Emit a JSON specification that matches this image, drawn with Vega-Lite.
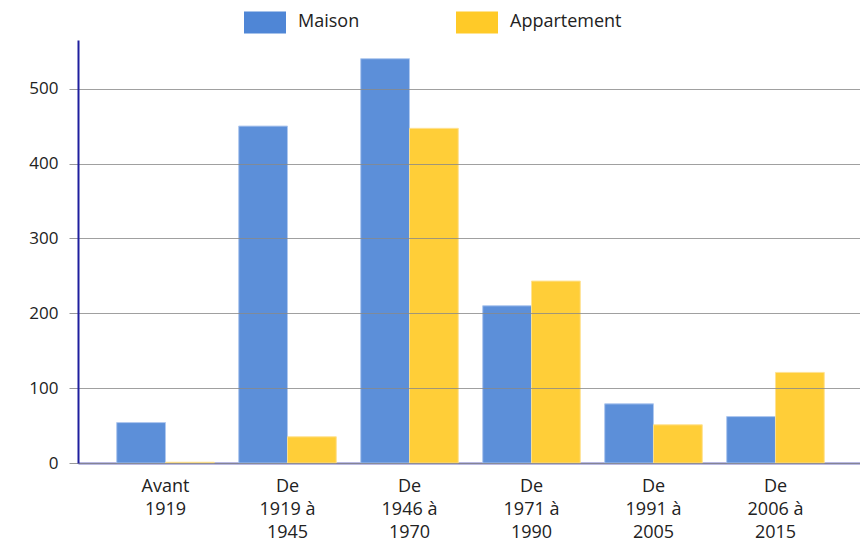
{
  "$schema": "https://vega.github.io/schema/vega-lite/v6.json",
  "autosize": {"type": "none"},
  "width": 782,
  "height": 423,
  "padding": {"left": 78, "top": 40, "right": 0, "bottom": 79},
  "background": "white",
  "data": {
    "values": [
      {"periode": "Avant 1919", "type": "Maison", "valeur": 54},
      {"periode": "Avant 1919", "type": "Appartement", "valeur": 1},
      {"periode": "De 1919 à 1945", "type": "Maison", "valeur": 450},
      {"periode": "De 1919 à 1945", "type": "Appartement", "valeur": 35},
      {"periode": "De 1946 à 1970", "type": "Maison", "valeur": 540},
      {"periode": "De 1946 à 1970", "type": "Appartement", "valeur": 447},
      {"periode": "De 1971 à 1990", "type": "Maison", "valeur": 210},
      {"periode": "De 1971 à 1990", "type": "Appartement", "valeur": 243},
      {"periode": "De 1991 à 2005", "type": "Maison", "valeur": 79},
      {"periode": "De 1991 à 2005", "type": "Appartement", "valeur": 51},
      {"periode": "De 2006 à 2015", "type": "Maison", "valeur": 62},
      {"periode": "De 2006 à 2015", "type": "Appartement", "valeur": 121}
    ]
  },
  "config": {
    "font": "Open Sans",
    "view": {"stroke": null}
  },
  "mark": {"type": "bar", "opacity": 0.92, "strokeWidth": 1},
  "encoding": {
    "x": {
      "field": "periode",
      "type": "nominal",
      "sort": null,
      "title": null,
      "scale": {"paddingInner": 0.2, "paddingOuter": 0.305, "align": 0.52},
      "axis": {
        "labelAngle": 0,
        "labelExpr": "split(replace(replace(replace(datum.value, 'Avant ', 'Avant|'), 'De ', 'De|'), ' à ', ' à|'), '|')",
        "labelFontSize": 18,
        "labelColor": "#222222",
        "labelLineHeight": 23,
        "labelPadding": 14,
        "ticks": false,
        "domainColor": "#7474c4",
        "domainWidth": 2,
        "labelBaseline": "top"
      }
    },
    "xOffset": {"field": "type", "type": "nominal", "sort": ["Maison", "Appartement"]},
    "y": {
      "field": "valeur",
      "type": "quantitative",
      "title": null,
      "scale": {"domain": [0, 565], "nice": false},
      "axis": {
        "values": [0, 100, 200, 300, 400, 500],
        "labelFontSize": 17,
        "labelColor": "#222222",
        "labelPadding": 11,
        "tickSize": 9,
        "tickColor": "#999999",
        "gridColor": "#888888",
        "gridOpacity": 0.8,
        "domainColor": "#1f1f9e",
        "domainWidth": 2,
        "zindex": 1
      }
    },
    "color": {
      "field": "type",
      "type": "nominal",
      "sort": ["Maison", "Appartement"],
      "scale": {"domain": ["Maison", "Appartement"], "range": ["#4f86d6", "#ffca28"]},
      "legend": {
        "title": null,
        "orient": "none",
        "direction": "horizontal",
        "legendX": 166,
        "legendY": -39,
        "symbolType": "M-1,-0.524H1V0.524H-1Z",
        "symbolSize": 1764,
        "symbolStrokeWidth": 0,
        "symbolOpacity": 1,
        "labelFontSize": 18,
        "labelColor": "#222222",
        "labelOffset": 12,
        "columnPadding": 96
      }
    },
    "stroke": {
      "field": "type",
      "type": "nominal",
      "scale": {"domain": ["Maison", "Appartement"], "range": ["#a9c4ee", "#ffe08a"]},
      "legend": null
    }
  }
}
